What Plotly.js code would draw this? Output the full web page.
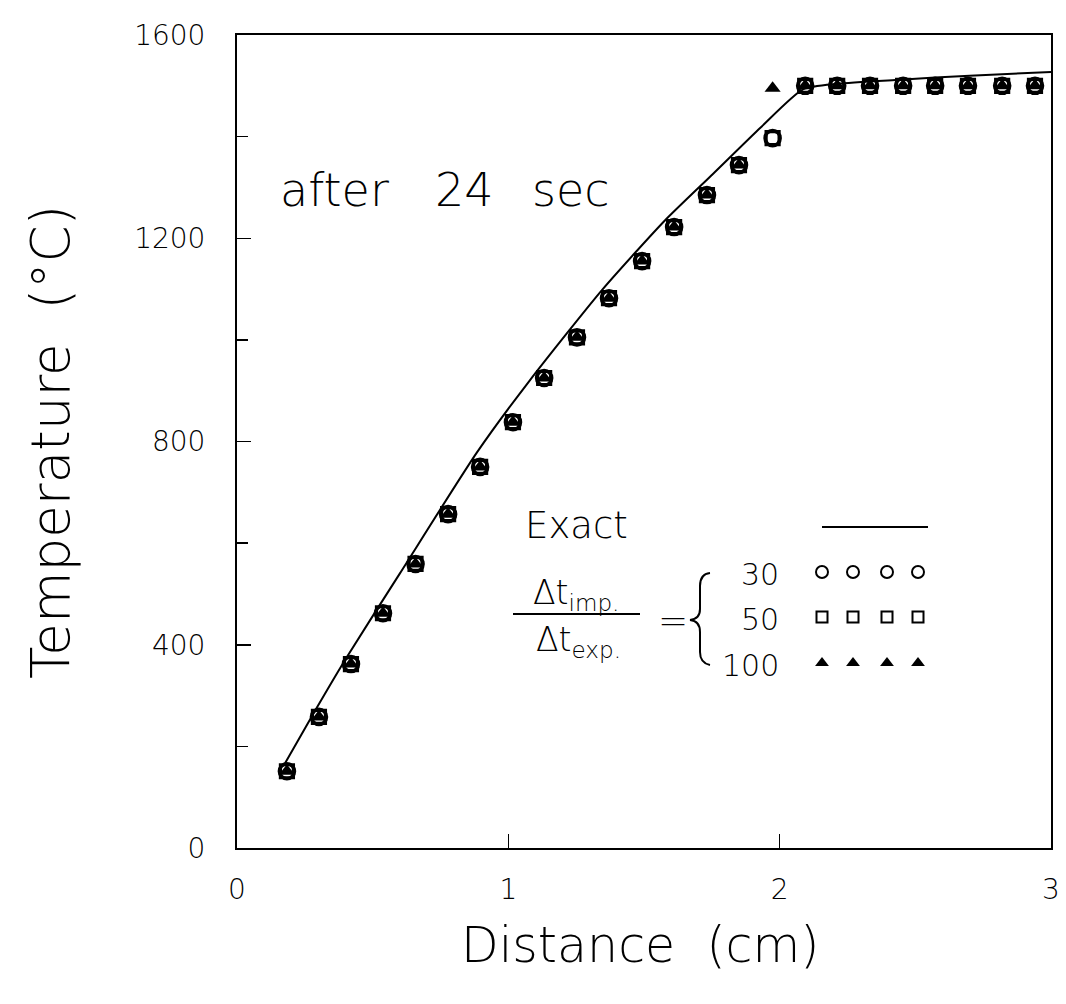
<!DOCTYPE html>
<html>
<head>
<meta charset="utf-8">
<script src="https://cdn.plot.ly/plotly-3.0.1.min.js"></script>
<style>html,body{margin:0;padding:0;background:#fff;}#chart{width:1066px;height:1004px;}</style>
</head>
<body>
<div id="chart"></div>
<script>
// ---- data ----
const distance = [0.184, 0.302, 0.420, 0.538, 0.658, 0.778, 0.896, 1.017, 1.132, 1.253, 1.371, 1.493,
                  1.611, 1.732, 1.850, 1.974, 2.094, 2.212, 2.333, 2.455, 2.573, 2.694, 2.820, 2.941];
const temp30  = [151, 258, 362, 462, 559, 657, 750, 838, 925, 1005, 1082, 1155,
                 1222, 1285, 1344, 1397, 1500, 1500, 1500, 1500, 1500, 1500, 1500, 1500];
const temp50  = [151, 258, 362, 462, 559, 657, 750, 838, 925, 1005, 1082, 1155,
                 1222, 1285, 1344, 1397, 1500, 1500, 1500, 1500, 1500, 1500, 1500, 1500];
const temp100 = [151, 258, 362, 462, 559, 657, 750, 838, 925, 1005, 1082, 1155,
                 1222, 1285, 1344, 1495, 1500, 1500, 1500, 1500, 1500, 1500, 1500, 1500];
const exactX = [0.177, 0.295, 0.405, 0.601, 0.885, 1.080, 1.345, 1.577, 1.755, 1.930, 2.086, 2.214, 2.444, 2.700, 3.0];
const exactT = [167, 277, 376, 541, 779, 921, 1098, 1235, 1327, 1418, 1493, 1504, 1512, 1520, 1527];
const xTicks = [0, 1, 2, 3];
const yTicks = [0, 400, 800, 1200, 1600];
const ratios = ['30', '50', '100'];

// ---- layout helpers (pixel -> paper) ----
const L = 237, R = 1051, T = 35, B = 848;
const px = x => (x - L) / (R - L);
const py = y => (B - y) / (B - T);
const FONT = 'DejaVu Sans';
const black = '#000';

const legendMarkX = [822, 853, 887, 918].map(px);

const traces = [
  {x: exactX, y: exactT, mode: 'lines', line: {color: black, width: 2, shape: 'spline', smoothing: 0.6}, hoverinfo: 'skip'},
  {x: distance, y: temp30, mode: 'markers',
   marker: {symbol: 'circle-open', size: 15, color: black, line: {width: 3.6, color: black}}},
  {x: distance, y: temp50, mode: 'markers',
   marker: {symbol: 'square-open', size: 13, color: black, line: {width: 3.2, color: black}}},
  {x: distance, y: temp100, mode: 'markers',
   marker: {symbol: 'triangle-up', size: 14, color: black, line: {width: 0}}},
  // legend samples
  {x: legendMarkX, y: legendMarkX.map(() => py(572)), xaxis: 'x2', yaxis: 'y2', mode: 'markers',
   marker: {symbol: 'circle-open', size: 12, color: black, line: {width: 2, color: black}}},
  {x: legendMarkX, y: legendMarkX.map(() => py(617)), xaxis: 'x2', yaxis: 'y2', mode: 'markers',
   marker: {symbol: 'square-open', size: 11, color: black, line: {width: 2, color: black}}},
  {x: legendMarkX, y: legendMarkX.map(() => py(663)), xaxis: 'x2', yaxis: 'y2', mode: 'markers',
   marker: {symbol: 'triangle-up', size: 12, color: black, line: {width: 0}}}
];

function ann(text, x, y, size, opts) {
  return Object.assign({text: text, x: px(x), y: py(y), xref: 'paper', yref: 'paper',
    showarrow: false, font: {family: FONT, size: size, color: black, weight: 200},
    xanchor: 'center', yanchor: 'middle'}, opts || {});
}

// brace path in pixel coords, converted to paper
function pathPaper(cmds) {
  return cmds.map(c => typeof c === 'string' ? c : (px(c[0]).toFixed(5) + ',' + py(c[1]).toFixed(5))).join(' ');
}
const bracePath = pathPaper(['M', [710, 573], 'Q', [700, 574], [700, 586], 'L', [700, 609],
  'Q', [700, 619], [690, 620], 'Q', [700, 621], [700, 632], 'L', [700, 652],
  'Q', [700, 663], [710, 665]]);

const annotations = [
  ann('after', 278, 190, 46, {xanchor: 'left'}),
  ann('24', 433, 190, 46, {xanchor: 'left'}),
  ann('sec', 530, 190, 46, {xanchor: 'left'}),
  ann('Exact', 523, 525, 37, {xanchor: 'left'}),
  ann(ratios[0], 781, 574, 30, {xanchor: 'right'}),
  ann(ratios[1], 781, 619, 30, {xanchor: 'right'}),
  ann(ratios[2], 781, 665, 30, {xanchor: 'right'}),
  ann('\u0394t<sub>imp.</sub>', 576, 594, 33),
  ann('\u0394t<sub>exp.</sub>', 578, 641, 33),
  ann('=', 673, 620, 36),
  ann('Temperature\u00a0\u00a0(\u00b0C)', 50, 442, 53, {textangle: -90}),
  ann('Distance\u00a0\u00a0(cm)', 640, 945, 49)
];

const shapes = [
  {type: 'line', xref: 'paper', yref: 'paper', x0: px(822), x1: px(928), y0: py(527), y1: py(527),
   line: {color: black, width: 2}},
  {type: 'line', xref: 'paper', yref: 'paper', x0: px(513), x1: px(640), y0: py(614), y1: py(614),
   line: {color: black, width: 2}},
  {type: 'path', xref: 'paper', yref: 'paper', path: bracePath, line: {color: black, width: 2}}
];

const layout = {
  width: 1066, height: 1004,
  margin: {l: L, r: 1066 - R, t: T, b: 1004 - B},
  paper_bgcolor: '#fff', plot_bgcolor: '#fff',
  showlegend: false,
  font: {family: FONT, color: black},
  xaxis: {range: [0, 3], tickvals: xTicks, ticktext: xTicks.map(String),
    ticks: 'inside', ticklen: 14, tickwidth: 1.5, tickcolor: black,
    showline: true, linewidth: 2, linecolor: black, mirror: true,
    showgrid: false, zeroline: false, tickfont: {family: FONT, size: 28, color: black, weight: 200},
    ticklabelstandoff: 15},
  yaxis: {range: [0, 1600], tickvals: yTicks, ticktext: yTicks.map(String),
    ticks: 'inside', ticklen: 14, tickwidth: 1.5, tickcolor: black,
    minor: {dtick: 200, ticks: 'inside', ticklen: 11, tickwidth: 1.5, tickcolor: black, showgrid: false},
    showline: true, linewidth: 2, linecolor: black, mirror: true,
    showgrid: false, zeroline: false, tickfont: {family: FONT, size: 28, color: black, weight: 200},
    ticklabelstandoff: 24},
  xaxis2: {overlaying: 'x', range: [0, 1], visible: false, fixedrange: true},
  yaxis2: {overlaying: 'y', range: [0, 1], visible: false, fixedrange: true},
  annotations: annotations,
  shapes: shapes
};

Plotly.newPlot('chart', traces, layout, {displayModeBar: false, staticPlot: true});
</script>
</body>
</html>
